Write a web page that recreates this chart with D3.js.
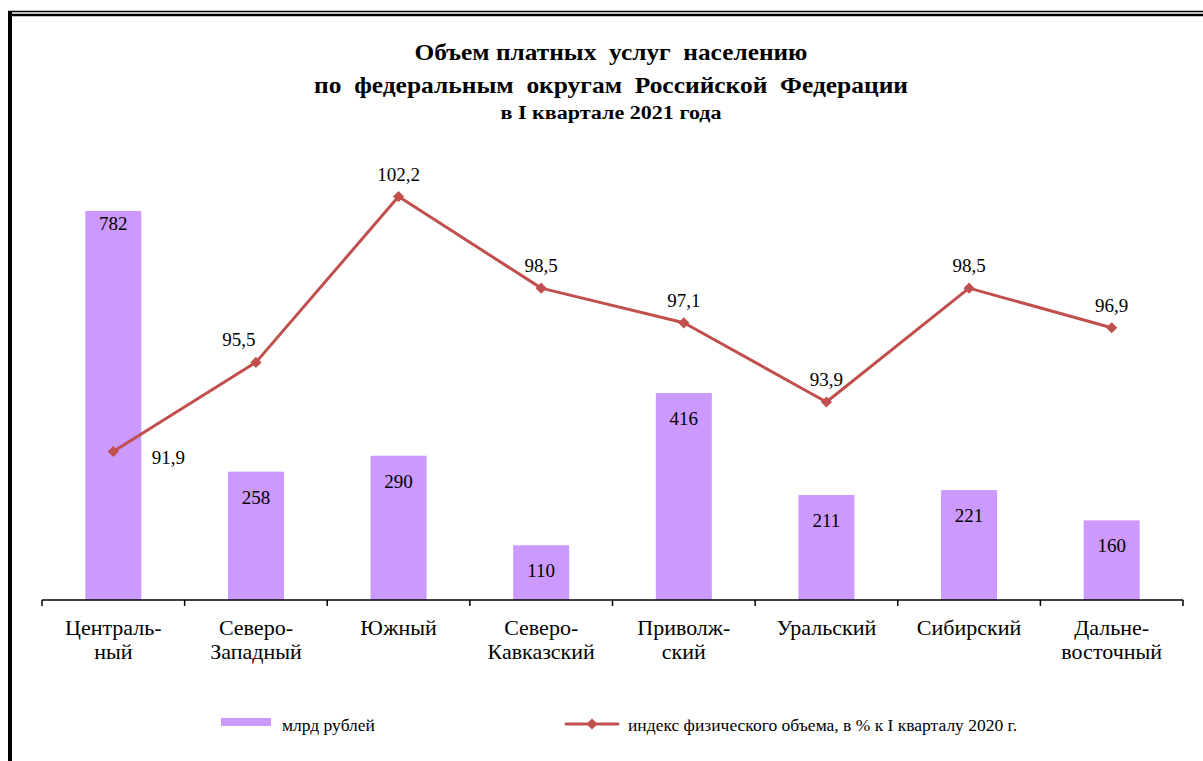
<!DOCTYPE html>
<html>
<head>
<meta charset="utf-8">
<script src="https://cdn.jsdelivr.net/npm/d3@7"></script>
<style>
  body { margin: 0; background: #fff; }
  svg text { font-family: "Liberation Serif", "Times New Roman", serif; }
</style>
</head>
<body>
<div id="chart"></div>
<script>
const categories = [
  ["Централь-", "ный"],
  ["Северо-", "Западный"],
  ["Южный"],
  ["Северо-", "Кавказский"],
  ["Приволж-", "ский"],
  ["Уральский"],
  ["Сибирский"],
  ["Дальне-", "восточный"]
];
const volume = [782, 258, 290, 110, 416, 211, 221, 160];
const volumeLabels = ["782", "258", "290", "110", "416", "211", "221", "160"];
const index = [91.9, 95.5, 102.2, 98.5, 97.1, 93.9, 98.5, 96.9];
const indexLabels = ["91,9", "95,5", "102,2", "98,5", "97,1", "93,9", "98,5", "96,9"];
const seriesNames = ["млрд рублей", "индекс физического объема, в % к I кварталу 2020 г."];
const titleLines = ["Объем платных  услуг  населению", "по  федеральным  округам  Российской  Федерации"];
const subTitle = "в I квартале 2021 года";

const W = 1203, H = 761;
const BAR_COLOR = "#CC99FF";
const LINE_COLOR = "#C0504D";
const left = 42, right = 1183, base = 600;

const svg = d3.select("#chart").append("svg")
  .attr("width", W).attr("height", H);

// frame: double line at top, thick line at left
svg.append("line").attr("x1", 8).attr("x2", W).attr("y1", 11.5).attr("y2", 11.5)
  .attr("stroke", "#000").attr("stroke-width", 1.5);
svg.append("line").attr("x1", 9).attr("x2", W).attr("y1", 15).attr("y2", 15)
  .attr("stroke", "#000").attr("stroke-width", 2.5);
svg.append("line").attr("x1", 10).attr("x2", 10).attr("y1", 11).attr("y2", H)
  .attr("stroke", "#000").attr("stroke-width", 4);

// title (the original is a wide bold Times, so stretch to its width)
const titleWidths = [393, 594];
titleLines.forEach((t, i) => {
  svg.append("text").attr("x", 611).attr("y", 60 + i * 33)
    .attr("text-anchor", "middle").attr("font-weight", "bold").attr("font-size", 24)
    .attr("textLength", titleWidths[i]).attr("lengthAdjust", "spacingAndGlyphs")
    .style("white-space", "pre").text(t);
});
svg.append("text").attr("x", 611).attr("y", 119).attr("text-anchor", "middle")
  .attr("font-weight", "bold").attr("font-size", 18)
  .attr("textLength", 221).attr("lengthAdjust", "spacingAndGlyphs")
  .text(subTitle);

const x = d3.scaleBand().domain(d3.range(categories.length))
  .range([left, right]).paddingInner(0).paddingOuter(0);
const yBar = d3.scaleLinear().domain([0, 800]).range([base, 202]);
const yLine = d3.scaleLinear().domain([85.9, 104]).range([base, 152]);
const barW = 56;

// bars
svg.append("g").selectAll("rect").data(volume).join("rect")
  .attr("x", (d, i) => x(i) + x.bandwidth() / 2 - barW / 2)
  .attr("y", d => yBar(d))
  .attr("width", barW)
  .attr("height", d => base - yBar(d))
  .attr("fill", BAR_COLOR);

svg.append("g").selectAll("text").data(volume).join("text")
  .attr("x", (d, i) => x(i) + x.bandwidth() / 2)
  .attr("y", d => yBar(d) + (d > 700 ? 19 : 32))
  .attr("text-anchor", "middle").attr("font-size", 19)
  .text((d, i) => volumeLabels[i]);

// axis
svg.append("line").attr("x1", left).attr("x2", right).attr("y1", base).attr("y2", base)
  .attr("stroke", "#000").attr("stroke-width", 1.5);
svg.append("g").selectAll("line").data(d3.range(categories.length + 1)).join("line")
  .attr("x1", i => left + i * x.bandwidth()).attr("x2", i => left + i * x.bandwidth())
  .attr("y1", base).attr("y2", base + 6)
  .attr("stroke", "#000").attr("stroke-width", 1.5);

const catText = svg.append("g").selectAll("text").data(categories).join("text")
  .attr("text-anchor", "middle").attr("font-size", 22);
catText.each(function (lines, i) {
  lines.forEach((l, j) => {
    d3.select(this).append("tspan")
      .attr("x", x(i) + x.bandwidth() / 2)
      .attr("y", 635 + j * 24)
      .text(l);
  });
});

// line series
const line = d3.line()
  .x((d, i) => x(i) + x.bandwidth() / 2)
  .y(d => yLine(d));
svg.append("path").datum(index).attr("d", line)
  .attr("fill", "none").attr("stroke", LINE_COLOR).attr("stroke-width", 3)
  .attr("stroke-linejoin", "round");

const diamond = d3.symbol().type(d3.symbolDiamond2).size(80);
svg.append("g").selectAll("path").data(index).join("path")
  .attr("d", diamond)
  .attr("transform", (d, i) => `translate(${x(i) + x.bandwidth() / 2},${yLine(d)})`)
  .attr("fill", LINE_COLOR);

// label placement: first right of point, second above-left, rest above
svg.append("g").selectAll("text").data(index).join("text")
  .attr("x", (d, i) => x(i) + x.bandwidth() / 2 + (i === 0 ? 55 : i === 1 ? -17 : 0))
  .attr("y", (d, i) => yLine(d) + (i === 0 ? 13 : -16))
  .attr("text-anchor", "middle").attr("font-size", 19)
  .text((d, i) => indexLabels[i]);

// legend
svg.append("rect").attr("x", 221).attr("y", 718).attr("width", 50).attr("height", 8)
  .attr("fill", BAR_COLOR);
svg.append("text").attr("x", 282).attr("y", 731).attr("font-size", 17.5).text(seriesNames[0]);
svg.append("line").attr("x1", 566).attr("x2", 618).attr("y1", 724).attr("y2", 724)
  .attr("stroke", LINE_COLOR).attr("stroke-width", 3).attr("stroke-linecap", "round");
svg.append("path").attr("d", diamond).attr("transform", "translate(592,724)")
  .attr("fill", LINE_COLOR);
svg.append("text").attr("x", 628).attr("y", 731).attr("font-size", 17.5).text(seriesNames[1]);
</script>
</body>
</html>
